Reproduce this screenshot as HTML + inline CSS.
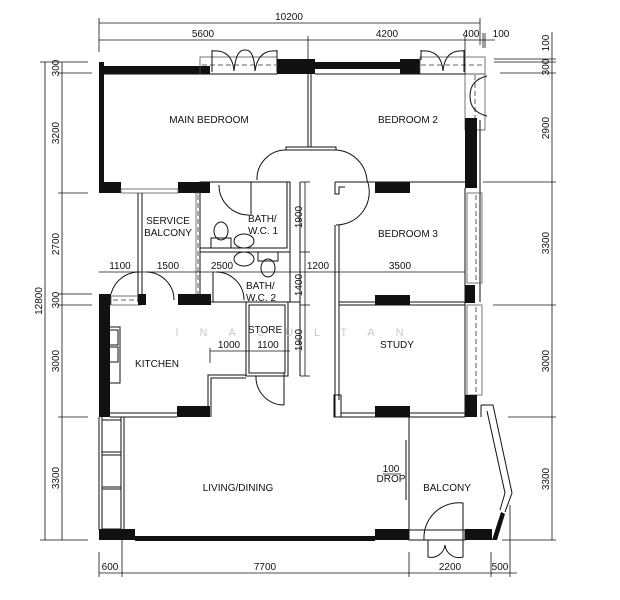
<!DOCTYPE html>
<html><head><meta charset="utf-8"><style>
html,body{margin:0;padding:0;background:#fff}
svg{display:block}
text{font-family:"Liberation Sans Narrow","Liberation Sans",sans-serif;font-size:10px;fill:#111}
.d{stroke:#111;stroke-width:0.8;fill:none}
.w{stroke:#111;stroke-width:1;fill:none}
.b{fill:#111}
.g{fill:none;stroke:#555;stroke-width:0.8}
.dash{stroke:#333;stroke-width:0.8;stroke-dasharray:5,3;fill:none}
</style></head><body>
<svg width="620" height="600" viewBox="0 0 620 600" xmlns="http://www.w3.org/2000/svg">
<!-- top dimensions -->
<line class="d" x1="99" y1="23" x2="480" y2="23"/>
<line class="d" x1="99" y1="40" x2="495" y2="40"/>
<line class="d" x1="99" y1="18" x2="99" y2="52"/>
<line class="d" x1="480" y1="18" x2="480" y2="45"/>
<line class="d" x1="308" y1="36" x2="308" y2="62"/>
<line class="d" x1="465" y1="36" x2="465" y2="75"/>
<line class="d" x1="483" y1="33" x2="483" y2="48"/>
<line class="d" x1="485" y1="33" x2="485" y2="48"/>
<text x="289" y="20" text-anchor="middle">10200</text>
<text x="203" y="37" text-anchor="middle">5600</text>
<text x="387" y="37" text-anchor="middle">4200</text>
<text x="471" y="37" text-anchor="middle">400</text>
<text x="501" y="37" text-anchor="middle">100</text>
<!-- left dimensions -->
<line class="d" x1="45" y1="62" x2="45" y2="540"/>
<line class="d" x1="62" y1="62" x2="62" y2="540"/>
<g class="d">
<line x1="40" y1="62" x2="88" y2="62"/><line x1="58" y1="73" x2="92" y2="73"/>
<line x1="58" y1="193" x2="88" y2="193"/><line x1="58" y1="294" x2="92" y2="294"/>
<line x1="58" y1="305" x2="92" y2="305"/><line x1="58" y1="417" x2="88" y2="417"/>
<line x1="40" y1="540" x2="88" y2="540"/>
</g>
<g font-size="10">
<text transform="translate(59,68) rotate(-90)" text-anchor="middle">300</text>
<text transform="translate(59,133) rotate(-90)" text-anchor="middle">3200</text>
<text transform="translate(59,244) rotate(-90)" text-anchor="middle">2700</text>
<text transform="translate(59,300) rotate(-90)" text-anchor="middle">300</text>
<text transform="translate(59,361) rotate(-90)" text-anchor="middle">3000</text>
<text transform="translate(59,478) rotate(-90)" text-anchor="middle">3300</text>
<text transform="translate(42,301) rotate(-90)" text-anchor="middle">12800</text>
</g>
<!-- right dimensions -->
<line class="d" x1="552" y1="32" x2="552" y2="540"/>
<g class="d">
<line x1="494" y1="59" x2="556" y2="59"/><line x1="494" y1="62" x2="556" y2="62"/>
<line x1="500" y1="73" x2="556" y2="73"/><line x1="483" y1="182" x2="556" y2="182"/>
<line x1="493" y1="305" x2="556" y2="305"/><line x1="508" y1="417" x2="556" y2="417"/>
<line x1="502" y1="540" x2="556" y2="540"/>
</g>
<text transform="translate(549,43) rotate(-90)" text-anchor="middle">100</text>
<text transform="translate(549,67) rotate(-90)" text-anchor="middle">300</text>
<text transform="translate(549,128) rotate(-90)" text-anchor="middle">2900</text>
<text transform="translate(549,243) rotate(-90)" text-anchor="middle">3300</text>
<text transform="translate(549,361) rotate(-90)" text-anchor="middle">3000</text>
<text transform="translate(549,479) rotate(-90)" text-anchor="middle">3300</text>
<!-- bottom dimensions -->
<line class="d" x1="99" y1="573" x2="517" y2="573"/>
<g class="d">
<line x1="99" y1="552" x2="99" y2="577"/><line x1="122" y1="540" x2="122" y2="577"/>
<line x1="409" y1="552" x2="409" y2="577"/><line x1="491" y1="552" x2="491" y2="577"/>
<line x1="510" y1="505" x2="510" y2="577"/>
</g>
<text x="110" y="570" text-anchor="middle">600</text>
<text x="265" y="570" text-anchor="middle">7700</text>
<text x="450" y="570" text-anchor="middle">2200</text>
<text x="500" y="570" text-anchor="middle">500</text>

<!-- ===== WALLS ===== -->
<rect class="b" x="99" y="62" width="5" height="131"/>
<rect class="b" x="104" y="66" width="106" height="8"/>
<rect class="g" x="200" y="57" width="77" height="17"/>
<line class="dash" x1="202" y1="65" x2="276" y2="65"/>
<path class="w" d="M212,51 Q232,49 234,71 M234,71 Q236,49 245,50 Q254,49 255,71 M255,71 Q258,49 277,51"/>
<line class="w" x1="212" y1="50" x2="212" y2="72"/><line class="w" x1="277" y1="50" x2="277" y2="72"/>
<rect class="b" x="277" y="59" width="38" height="15"/>
<rect class="b" x="315" y="62" width="85" height="7"/>
<rect class="b" x="400" y="59" width="20" height="15"/>
<rect class="g" x="420" y="57" width="65" height="17"/>
<line class="dash" x1="421" y1="65" x2="484" y2="65"/>
<path class="w" d="M421,51 Q441,49 443,71 Q445,49 464,51"/>
<line class="w" x1="421" y1="50" x2="421" y2="60"/>
<line class="w" x1="464" y1="50" x2="464" y2="72"/>
<line class="w" x1="104" y1="74" x2="277" y2="74"/>
<line class="w" x1="315" y1="74" x2="465" y2="74"/>
<!-- right wall bedroom2 -->
<rect class="g" x="465" y="74" width="20" height="56"/>
<line class="dash" x1="475" y1="75" x2="475" y2="128"/>
<path class="w" d="M487,76 Q470,80 470,96 Q470,112 487,116"/>
<rect class="b" x="465" y="118" width="12" height="70"/>
<line class="w" x1="480" y1="120" x2="480" y2="302"/>
<rect class="g" x="467" y="193" width="15" height="90"/>
<line class="dash" x1="476" y1="195" x2="476" y2="282"/>
<rect class="b" x="465" y="285" width="10" height="18"/>
<rect class="g" x="467" y="305" width="15" height="90"/>
<line class="dash" x1="476" y1="307" x2="476" y2="393"/>
<rect class="b" x="465" y="395" width="12" height="22"/>
<line class="w" x1="465" y1="188" x2="465" y2="417"/>

<rect class="b" x="99" y="182" width="22" height="11"/>
<rect class="b" x="178" y="182" width="32" height="11"/>
<rect class="g" x="121" y="189" width="57" height="4"/>
<line class="w" x1="308" y1="74" x2="308" y2="147"/><line class="w" x1="311" y1="74" x2="311" y2="147"/>
<path class="w" d="M286,147 L336,147 L336,150 L286,150 Z"/>
<path class="w" d="M286,150 A29,29 0 0 0 257,180"/>
<path class="w" d="M336,150 A33,33 0 0 1 367,180 A33,33 0 0 1 336,225"/>
<line class="w" x1="335" y1="182" x2="465" y2="182"/>
<rect class="b" x="375" y="182" width="35" height="11"/>
<path class="w" d="M335,182 L335,194 L339,194 L339,187 L345,187"/>
<line class="w" x1="335" y1="225" x2="335" y2="417"/><line class="w" x1="339" y1="225" x2="339" y2="400"/>
<line class="w" x1="339" y1="302" x2="465" y2="302"/><line class="w" x1="339" y1="305" x2="465" y2="305"/>
<rect class="b" x="375" y="295" width="35" height="10"/>
<rect class="w" x="334" y="395" width="7" height="22"/>
<line class="w" x1="341" y1="413" x2="465" y2="413"/><line class="w" x1="335" y1="417" x2="465" y2="417"/>
<rect class="b" x="375" y="406" width="35" height="11"/>
<line class="w" x1="138" y1="193" x2="138" y2="302"/><line class="w" x1="142" y1="193" x2="142" y2="302"/>
<rect class="g" x="196" y="193" width="4" height="110"/>
<line class="dash" x1="198" y1="195" x2="198" y2="300"/>
<rect class="w" x="200" y="182" width="90" height="70"/>
<rect class="w" x="200" y="182" width="87" height="66"/>
<line class="w" x1="251" y1="182" x2="251" y2="215"/>
<path class="w" d="M219,185 A30,30 0 0 0 249,215"/>
<ellipse class="w" cx="221" cy="231" rx="7" ry="9"/><rect class="w" x="211" y="238" width="20" height="10"/>
<ellipse class="w" cx="244" cy="241" rx="10" ry="7"/>
<rect class="w" x="200" y="252" width="90" height="50"/>
<ellipse class="w" cx="244" cy="259" rx="10" ry="7"/>
<rect class="w" x="258" y="252" width="20" height="9"/><ellipse class="w" cx="268" cy="268" rx="7" ry="9"/>
<path class="w" d="M216,272 A28,28 0 0 1 244,300"/>
<line class="w" x1="213" y1="272" x2="213" y2="302"/>
<rect class="b" x="99" y="294" width="12" height="11"/>
<rect class="g" x="111" y="296" width="30" height="9"/>
<line class="dash" x1="113" y1="300" x2="140" y2="300"/>
<rect class="b" x="138" y="294" width="8" height="11"/>
<rect class="b" x="178" y="294" width="33" height="11"/>
<line class="w" x1="211" y1="302" x2="300" y2="302"/>
<path class="w" d="M111,294 A29,29 0 0 1 140,272"/>
<path class="w" d="M146,272 A28,28 0 0 1 174,300"/>
<rect class="w" x="246" y="302" width="42" height="74"/>
<rect class="w" x="249" y="305" width="36" height="68"/>
<path class="w" d="M256,376 A28,28 0 0 0 284,405"/>
<line class="w" x1="284" y1="373" x2="284" y2="405"/>
<line class="w" x1="300" y1="182" x2="300" y2="376"/>
<rect class="b" x="99" y="305" width="11" height="112"/>
<rect class="w" x="103" y="327" width="17" height="56"/>
<rect class="w" x="105" y="330" width="13" height="15"/><rect class="w" x="105" y="347" width="13" height="15"/>
<line class="w" x1="110" y1="417" x2="177" y2="417"/><line class="w" x1="110" y1="413" x2="177" y2="413"/>
<rect class="b" x="177" y="406" width="33" height="11"/>
<path class="w" d="M208,417 L208,375 L246,375 M211,417 L211,378 L246,378"/>
<line class="w" x1="99" y1="417" x2="99" y2="530"/><line class="w" x1="102" y1="417" x2="102" y2="530"/>
<line class="w" x1="121" y1="417" x2="121" y2="530"/><line class="w" x1="124" y1="417" x2="124" y2="530"/>
<rect class="w" x="102" y="420" width="19" height="32"/>
<rect class="w" x="102" y="455" width="19" height="32"/>
<rect class="w" x="102" y="489" width="19" height="40"/>
<rect class="b" x="99" y="529" width="36" height="11"/>
<rect class="b" x="135" y="536" width="240" height="5"/>
<rect class="b" x="375" y="529" width="34" height="11"/>
<line class="w" x1="409" y1="417" x2="409" y2="540"/><line class="w" x1="406" y1="440" x2="406" y2="500"/>
<rect class="w" x="409" y="530" width="56" height="10"/>
<path class="w" d="M424,540 A35,35 0 0 1 463,503 L463,540 M428,540 L428,557 A14,14 0 0 0 445,545 A14,14 0 0 0 463,557 L463,540"/>
<rect class="b" x="465" y="529" width="27" height="11"/>
<polygon class="b" points="492,540 501,512 505,514 497,540"/>
<path class="w" d="M481,405 L493,405 L512,493 L505,512 M481,405 L481,417 M487,411 L505,493 L500,510"/>
<!-- inner dims -->
<line class="d" x1="99" y1="272" x2="465" y2="272"/>
<text x="120" y="269" text-anchor="middle">1100</text>
<text x="168" y="269" text-anchor="middle">1500</text>
<text x="222" y="269" text-anchor="middle">2500</text>
<text x="318" y="269" text-anchor="middle">1200</text>
<text x="400" y="269" text-anchor="middle">3500</text>
<line class="d" x1="305" y1="182" x2="305" y2="376"/>
<g class="d"><line x1="300" y1="182" x2="310" y2="182"/><line x1="300" y1="252" x2="310" y2="252"/><line x1="300" y1="305" x2="310" y2="305"/><line x1="300" y1="376" x2="310" y2="376"/></g>
<text transform="translate(302,217) rotate(-90)" text-anchor="middle">1900</text>
<text transform="translate(302,285) rotate(-90)" text-anchor="middle">1400</text>
<text transform="translate(302,340) rotate(-90)" text-anchor="middle">1900</text>
<line class="d" x1="210" y1="351" x2="290" y2="351"/>
<line class="d" x1="210" y1="348" x2="210" y2="363"/>
<text x="229" y="348" text-anchor="middle">1000</text>
<text x="268" y="348" text-anchor="middle">1100</text>
<!-- labels -->
<text x="209" y="123" text-anchor="middle">MAIN  BEDROOM</text>
<text x="408" y="123" text-anchor="middle">BEDROOM  2</text>
<text x="408" y="237" text-anchor="middle">BEDROOM  3</text>
<text x="168" y="224" text-anchor="middle">SERVICE</text>
<text x="168" y="236" text-anchor="middle">BALCONY</text>
<text x="248" y="222">BATH/</text><text x="248" y="234">W.C.  1</text>
<text x="246" y="289">BATH/</text><text x="246" y="301">W.C.  2</text>
<text x="265" y="333" text-anchor="middle">STORE</text>
<text x="157" y="367" text-anchor="middle">KITCHEN</text>
<text x="397" y="348" text-anchor="middle">STUDY</text>
<text x="238" y="491" text-anchor="middle">LIVING/DINING</text>
<text x="447" y="491" text-anchor="middle">BALCONY</text>
<text x="391" y="472" text-anchor="middle" font-size="9">100</text>
<line class="d" x1="383" y1="474" x2="401" y2="474"/>
<text x="391" y="482" text-anchor="middle" font-size="9">DROP</text>
<text x="300" y="336" text-anchor="middle" style="fill:#c8c8c8;font-size:11px;letter-spacing:21px">INASULTAN</text>
</svg>
</body></html>
